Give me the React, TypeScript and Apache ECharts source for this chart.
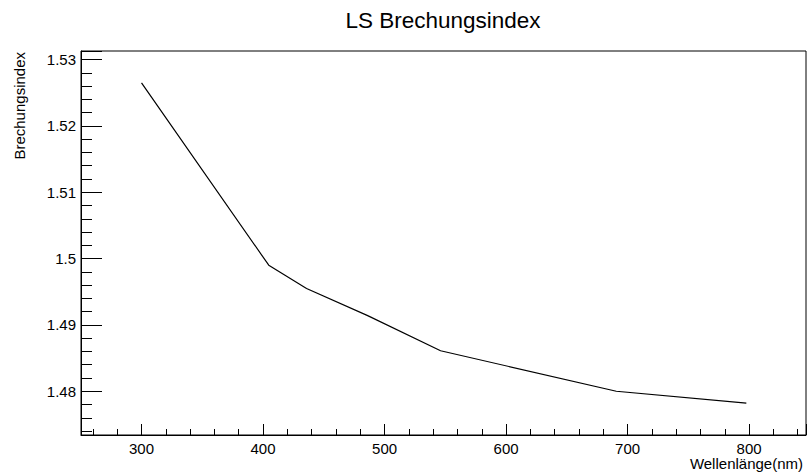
import React, { useEffect, useRef } from "react";
import * as echarts from "echarts";

// Wavelength (nm) and refractive index
const wavelengths = [300, 404.7, 435.8, 486.1, 546.1, 690.7, 797.7];
const refractiveIndex = [1.5265, 1.499, 1.4955, 1.4914, 1.4861, 1.48, 1.4782];

const chartTitle = "LS Brechungsindex";
const xTitle = "Wellenlänge(nm)";
const yTitle = "Brechungsindex";

const xMin = 250.2;
const xMax = 846.8;
const yMin = 1.4734;
const yMax = 1.5313;

const FONT = "'Liberation Sans', Arial, Helvetica, sans-serif";

export default function App() {
  const ref = useRef<HTMLDivElement>(null);

  useEffect(() => {
    if (!ref.current) return;
    const chart = echarts.init(ref.current, undefined, { renderer: "svg" });
    const data = wavelengths.map((w, i) => [w, refractiveIndex[i]]);
    chart.setOption({
      animation: false,
      backgroundColor: "#ffffff",
      grid: {
        left: 81,
        top: 51,
        right: 3,
        bottom: 39,
        show: true,
        borderColor: "#000",
        borderWidth: 1,
        backgroundColor: "transparent",
      },
      xAxis: {
        type: "value",
        min: xMin,
        max: xMax,
        splitNumber: 5,
        minInterval: 100,
        maxInterval: 100,
        axisLine: { show: true, lineStyle: { color: "#000", width: 1 } },
        axisTick: { show: true, inside: true, length: 11, lineStyle: { color: "#000", width: 1 } },
        minorTick: { show: true, splitNumber: 5, length: 6, lineStyle: { color: "#000", width: 1 } },
        splitLine: { show: false },
        axisLabel: {
          color: "#000",
          fontSize: 15,
          lineHeight: 14,
          fontFamily: FONT,
          margin: 6,
          formatter: (v: number) => {
            const r = Math.round(v / 100) * 100;
            return Math.abs(v - r) < 1e-6 ? String(r) : "";
          },
        },
      },
      yAxis: {
        type: "value",
        min: yMin,
        max: yMax,
        splitNumber: 5,
        minInterval: 0.01,
        maxInterval: 0.01,
        axisLine: { show: true, lineStyle: { color: "#000", width: 1 } },
        axisTick: { show: true, inside: true, length: 21, lineStyle: { color: "#000", width: 1 } },
        minorTick: { show: true, splitNumber: 5, length: 11, lineStyle: { color: "#000", width: 1 } },
        splitLine: { show: false },
        axisLabel: {
          color: "#000",
          fontSize: 15,
          fontFamily: FONT,
          margin: 5,
          formatter: (v: number) => {
            const r = Math.round(v * 100) / 100;
            return Math.abs(v - r) < 1e-7 ? String(Number(r.toFixed(2))) : "";
          },
        },
      },
      series: [
        {
          type: "line",
          data,
          showSymbol: false,
          symbol: "none",
          lineStyle: { color: "#000", width: 1.2 },
          silent: true,
        },
      ],
      graphic: [
        {
          type: "text",
          x: 443,
          y: 20,
          style: {
            text: chartTitle,
            fill: "#000",
            font: `22.5px ${FONT}`,
            textAlign: "center",
            textVerticalAlign: "middle",
          },
        },
        {
          type: "text",
          x: 803,
          y: 471,
          style: {
            text: xTitle,
            fill: "#000",
            font: `15px ${FONT}`,
            lineHeight: 15,
            textAlign: "right",
            textVerticalAlign: "bottom",
          },
        },
        {
          type: "text",
          x: 19,
          y: 52,
          rotation: Math.PI / 2,
          style: {
            text: yTitle,
            fill: "#000",
            font: `15px ${FONT}`,
            textAlign: "right",
            textVerticalAlign: "middle",
          },
        },
      ],
    });
    return () => chart.dispose();
  }, []);

  return (
    <div
      ref={ref}
      style={{ position: "fixed", left: 0, top: 0, width: 809, height: 474, background: "#fff" }}
    />
  );
}
